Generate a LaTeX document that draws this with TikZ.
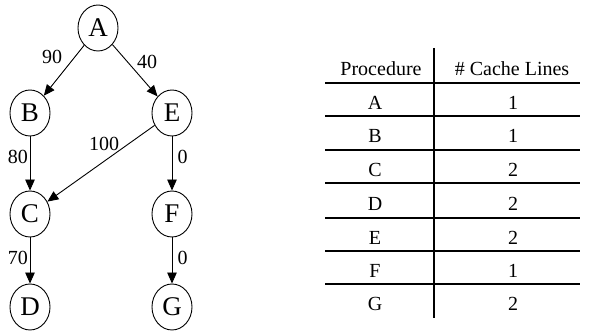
\documentclass[tikz,border=0pt]{standalone}
\usepackage{fontspec}
\setmainfont{Liberation Serif}
\usetikzlibrary{shapes.geometric,arrows.meta}
\begin{document}
\begin{tikzpicture}[x=1pt,y=-1pt,
  vert/.style={ellipse,draw,line width=0.9pt,minimum width=40pt,minimum height=46pt,inner sep=0pt,font=\fontsize{27}{27}\selectfont},
  edge/.style={draw,line width=0.9pt,-{Triangle[length=11pt,width=9.5pt]}},
  elabel/.style={font=\fontsize{20}{20}\selectfont,inner sep=0pt},
  cell/.style={font=\fontsize{20}{20}\selectfont,inner sep=0pt,anchor=base},
  rule/.style={line width=1.1pt}]
\useasboundingbox (0,0) rectangle (592,336);
% graph
\node[vert] (A) at (98,28) {A};
\node[vert] (B) at (30,113) {B};
\node[vert] (E) at (172,113) {E};
\node[vert] (C) at (30,214) {C};
\node[vert] (F) at (172,214) {F};
\node[vert] (D) at (30,307) {D};
\node[vert] (G) at (172,307) {G};
\draw[edge] (A) -- (B);
\draw[edge] (A) -- (E);
\draw[edge] (B) -- (C);
\draw[edge] (E) -- (C);
\draw[edge] (E) -- (F);
\draw[edge] (C) -- (D);
\draw[edge] (F) -- (G);
\node[elabel] (l1) at (52,57) {90};
\node[elabel] (l2) at (147,62) {40};
\node[elabel] (l3) at (104,144) {100};
\node[elabel] (l4) at (18,157) {80};
\node[elabel] (l5) at (182.5,157) {0};
\node[elabel] (l6) at (18,258) {70};
\node[elabel] (l7) at (182.5,258) {0};
% table
\coordinate (vt) at (434,48);
\coordinate (vb) at (434,318);
\draw[rule] (vt) -- (vb);
\foreach \y/\n in {83/h0,116/h1,150/h2,183/h3,218/h4,251/h5,284/h6}{
  \coordinate (\n l) at (325,\y);
  \coordinate (\n r) at (580,\y);
  \draw[rule] (\n l) -- (\n r);
}
\node[cell] (th1) at (381,75.5) {Procedure};
\node[cell] (th2) at (512,75.5) {\# Cache Lines};
\foreach \p/\v/\y in {A/1/109.5,B/1/143,C/2/176.5,D/2/210.5,E/2/244.5,F/1/277.5,G/2/311}{
  \node[cell] (p\p) at (375,\y) {\p};
  \node[cell] (v\p) at (513,\y) {\v};
}
\end{tikzpicture}
\end{document}
